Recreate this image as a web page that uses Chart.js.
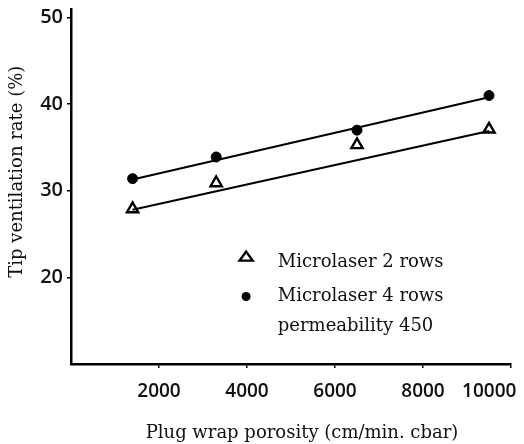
<!DOCTYPE html>
<html>
<head>
<meta charset="utf-8">
<script src="https://cdn.jsdelivr.net/npm/chart.js@4/dist/chart.umd.min.js"></script>
<style>
html,body{margin:0;padding:0;background:#fff;}
#wrap{width:524px;height:444px;position:relative;}
</style>
</head>
<body>
<div id="wrap"><canvas id="c" width="524" height="444"></canvas></div>
<script>
// ---- data ----
const porosity2 = [1400, 3300, 6500, 9500];
const rate2 = [27.9, 30.9, 35.3, 37.1];          // Microlaser 2 rows (triangles)
const porosity4 = [1400, 3300, 6500, 9500];
const rate4 = [31.4, 33.9, 37.0, 41.0];          // Microlaser 4 rows (dots)
const fitX = [1400, 9500];
const fit2 = [27.8, 36.9];
const fit4 = [31.3, 40.8];
const xTicks = [2000, 4000, 6000, 8000, 10000];
const yTicks = [20, 30, 40, 50];
const legendLabels = ['Microlaser 2 rows', 'Microlaser 4 rows', 'permeability 450'];
const xTitle = 'Plug wrap porosity (cm/min. cbar)';
const yTitle = 'Tip ventilation rate (%)';

const pts = (xs, ys) => xs.map((x, i) => ({x: x, y: ys[i]}));
const SERIF = "'DejaVu Serif', serif";
const SANS = "'Open Sans', sans-serif";

const annotatePlugin = {
  id: 'legendText',
  afterDatasetsDraw(chart) {
    const ctx = chart.ctx, xs = chart.scales.x, ys = chart.scales.y;
    const mx = xs.getPixelForValue(3980);
    const tx = xs.getPixelForValue(4700);
    const rows = [22.4, 17.8, 14.4];
    ctx.save();
    // triangle marker
    const ty = ys.getPixelForValue(rows[0]);
    ctx.strokeStyle = '#000'; ctx.fillStyle = '#fff'; ctx.lineWidth = 2.4;
    ctx.beginPath();
    ctx.moveTo(mx, ty - 5); ctx.lineTo(mx + 6.5, ty + 4); ctx.lineTo(mx - 6.5, ty + 4); ctx.closePath();
    ctx.fill(); ctx.stroke();
    // dot marker
    const dy = ys.getPixelForValue(rows[1]);
    ctx.fillStyle = '#000';
    ctx.beginPath(); ctx.arc(mx, dy, 4.5, 0, Math.PI * 2); ctx.fill();
    // legend texts
    ctx.fillStyle = '#111';
    ctx.font = '18px ' + SERIF;
    ctx.textAlign = 'left'; ctx.textBaseline = 'middle';
    legendLabels.forEach((t, i) => {
      ctx.fillText(t, tx, ys.getPixelForValue(rows[i]) + (i === 0 ? 6 : 0));
    });
    // axis titles
    ctx.textAlign = 'center';
    ctx.fillText(xTitle, xs.getPixelForValue(5250), 433);
    ctx.save();
    ctx.translate(17, ys.getPixelForValue(32.2));
    ctx.rotate(-Math.PI / 2);
    ctx.fillText(yTitle, 0, 0);
    ctx.restore();
    ctx.restore();
  }
};

new Chart(document.getElementById('c'), {
  type: 'scatter',
  data: {
    datasets: [
      { label: 'fit 2 rows', data: pts(fitX, fit2), showLine: true, borderColor: '#000', borderWidth: 2, pointRadius: 0, fill: false },
      { label: 'fit 4 rows', data: pts(fitX, fit4), showLine: true, borderColor: '#000', borderWidth: 2, pointRadius: 0, fill: false },
      { label: legendLabels[0], data: pts(porosity2, rate2), pointStyle: 'triangle', pointRadius: 6.5, pointBorderWidth: 2.4, pointBackgroundColor: '#fff', pointBorderColor: '#000', showLine: false },
      { label: legendLabels[1], data: pts(porosity4, rate4), pointStyle: 'circle', pointRadius: 5, pointBackgroundColor: '#000', pointBorderColor: '#000', showLine: false }
    ]
  },
  options: {
    responsive: false,
    animation: false,
    layout: { padding: { top: 7, right: 13, left: 0, bottom: 0 } },
    plugins: { legend: { display: false }, tooltip: { enabled: false } },
    scales: {
      x: {
        type: 'linear', min: 0, max: 10000,
        afterBuildTicks: s => { s.ticks = xTicks.map(v => ({value: v})); },
        afterFit: s => { s.height = 80; s.paddingRight = 0; s.paddingLeft = 0; },
        grid: { drawOnChartArea: false, drawTicks: true, tickLength: 4, color: '#000', lineWidth: 1.5 },
        border: { display: true, color: '#000', width: 2.5 },
        ticks: {
          color: '#111', font: { family: SANS, size: 19, weight: '600' }, maxRotation: 0, autoSkip: false, padding: 12,
          callback: v => v === 10000 ? '10000\u2007\u2007\u2007\u2007' : String(v)
        },
        title: { display: false }
      },
      y: {
        type: 'linear', min: 10, max: 51,
        afterBuildTicks: s => { s.ticks = yTicks.map(v => ({value: v})); },
        afterFit: s => { s.width = 71; s.paddingTop = 0; s.paddingBottom = 0; },
        grid: { drawOnChartArea: false, drawTicks: true, tickLength: 4, color: '#000', lineWidth: 1.5 },
        border: { display: true, color: '#000', width: 2.5 },
        ticks: { color: '#111', font: { family: SANS, size: 20, weight: '600' }, padding: 4 },
        title: { display: false }
      }
    }
  },
  plugins: [annotatePlugin]
});
</script>
</body>
</html>
